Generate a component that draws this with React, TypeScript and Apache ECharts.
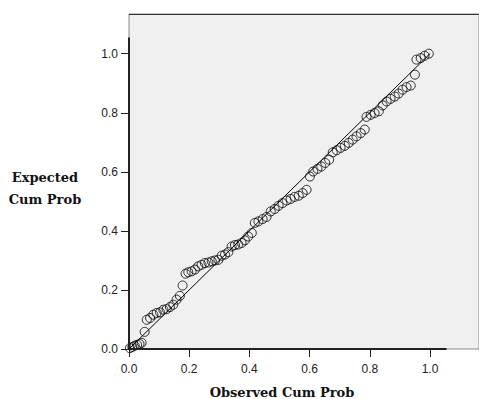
import React, { useEffect, useRef } from "react";
import * as echarts from "echarts";

const obsX = [
  0.003, 0.011, 0.019, 0.027, 0.035, 0.042, 0.052,
  0.059, 0.07, 0.081, 0.092, 0.103, 0.114, 0.125, 0.136, 0.147, 0.158, 0.169, 0.178,
  0.188, 0.197, 0.208, 0.219, 0.23, 0.241, 0.252, 0.264, 0.275, 0.286, 0.297, 0.308, 0.319, 0.33, 0.341, 0.352, 0.363, 0.374, 0.385, 0.396, 0.408,
  0.418, 0.43, 0.444, 0.457, 0.471, 0.484, 0.497, 0.51, 0.524, 0.537, 0.55, 0.564, 0.577, 0.59,
  0.601, 0.612, 0.626, 0.639, 0.652, 0.665, 0.677, 0.69, 0.703, 0.717, 0.73, 0.743, 0.756, 0.77, 0.783,
  0.789, 0.803, 0.816, 0.83, 0.843, 0.856, 0.869, 0.883, 0.896, 0.909, 0.922, 0.936, 0.95, 0.955, 0.969, 0.982, 0.996,
];
const expY = [
  0.003, 0.007, 0.011, 0.014, 0.017, 0.021, 0.058,
  0.099, 0.105, 0.116, 0.122, 0.124, 0.133, 0.135, 0.142, 0.15, 0.167, 0.18, 0.215,
  0.255, 0.26, 0.263, 0.269, 0.28, 0.285, 0.291, 0.293, 0.297, 0.3, 0.302, 0.316, 0.32, 0.328, 0.347, 0.352, 0.354, 0.359, 0.368, 0.381, 0.393,
  0.427, 0.432, 0.44, 0.447, 0.466, 0.474, 0.485, 0.494, 0.503, 0.508, 0.515, 0.519, 0.528, 0.539,
  0.584, 0.601, 0.61, 0.618, 0.63, 0.641, 0.666, 0.673, 0.681, 0.688, 0.698, 0.709, 0.72, 0.731, 0.743,
  0.786, 0.793, 0.799, 0.805, 0.825, 0.838, 0.847, 0.855, 0.865, 0.878, 0.887, 0.892, 0.929, 0.98, 0.985, 0.993, 1.0,
];
const tickValues = [0, 0.2, 0.4, 0.6, 0.8, 1.0];
const refLine = [[0, 0], [1, 1]];
const xTitle = "Observed Cum Prob";
const yTitle = "Expected\nCum Prob";

const X_MAX = 1.1628;
const Y_MAX = 1.1344;
const AXIS_END = 1.055;

export default function App() {
  const ref = useRef<HTMLDivElement>(null);
  useEffect(() => {
    if (!ref.current) return;
    const chart = echarts.init(ref.current, null, { renderer: "svg" });
    const points = obsX.map((x, i) => [x, expY[i]]);
    const labelFont = {
      fontFamily: "'Liberation Sans', Arial, sans-serif",
      fontSize: 12,
      color: "#222",
    };
    const tick = {
      show: true,
      inside: false,
      length: 8,
      lineStyle: { color: "#222", width: 1 },
      customValues: tickValues,
    };
    chart.setOption({
      animation: false,
      backgroundColor: "#fff",
      grid: {
        left: 129,
        top: 14,
        right: 0,
        bottom: 50,
        show: true,
        backgroundColor: "#f0f0f0",
        borderColor: "#888",
        borderWidth: 1,
      },
      xAxis: {
        type: "value",
        min: 0,
        max: X_MAX,
        splitLine: { show: false },
        axisLine: { show: false },
        axisTick: tick,
        axisLabel: {
          ...labelFont,
          customValues: tickValues,
          margin: 14,
          formatter: (v: number) => v.toFixed(1),
        },
      },
      yAxis: {
        type: "value",
        min: 0,
        max: Y_MAX,
        splitLine: { show: false },
        axisLine: { show: false },
        axisTick: tick,
        axisLabel: {
          ...labelFont,
          customValues: tickValues,
          margin: 11,
          formatter: (v: number) => v.toFixed(1),
        },
      },
      graphic: [
        {
          type: "text",
          x: 282,
          y: 392,
          style: {
            text: xTitle,
            font: "bold 13px 'DejaVu Serif'",
            fill: "#111",
            align: "center",
            verticalAlign: "middle",
          },
        },
        {
          type: "text",
          x: 45,
          y: 188,
          style: {
            text: yTitle,
            font: "bold 13px 'DejaVu Serif'",
            fill: "#111",
            align: "center",
            verticalAlign: "middle",
            lineHeight: 22,
          },
        },
      ],
      series: [
        {
          type: "line",
          data: refLine,
          symbol: "none",
          lineStyle: { color: "#000", width: 1 },
          silent: true,
          markLine: {
            silent: true,
            symbol: "none",
            label: { show: false },
            lineStyle: { color: "#222", width: 2, type: "solid" },
            data: [
              [{ coord: [0, 0] }, { coord: [AXIS_END, 0] }],
              [{ coord: [0, 0] }, { coord: [0, AXIS_END] }],
              [
                { coord: [0, Y_MAX], lineStyle: { width: 1, color: "#333" } },
                { coord: [X_MAX, Y_MAX] },
              ],
            ],
          },
        },
        {
          type: "scatter",
          data: points,
          symbol: "circle",
          symbolSize: 9,
          itemStyle: {
            color: "rgba(0,0,0,0)",
            borderColor: "#000",
            borderWidth: 1,
          },
        },
      ],
    });
    return () => chart.dispose();
  }, []);
  return <div ref={ref} style={{ width: 479, height: 399, position: "absolute", left: 0, top: 0 }} />;
}
